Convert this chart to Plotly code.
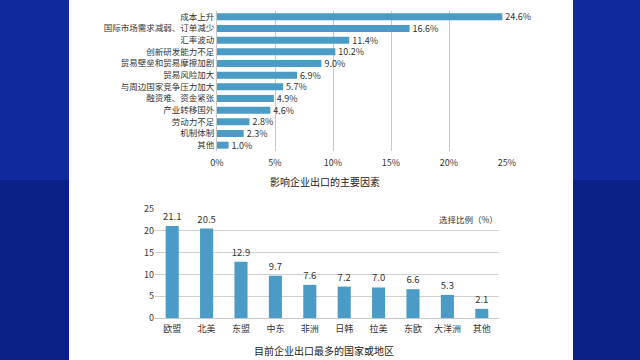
import plotly.graph_objects as go

factors = ["成本上升", "国际市场需求减弱、订单减少", "汇率波动", "创新研发能力不足",
           "贸易壁垒和贸易摩擦加剧", "贸易风险加大", "与周边国家竞争压力加大",
           "融资难、资金紧张", "产业转移国外", "劳动力不足", "机制体制", "其他"]
factor_pct = [24.6, 16.6, 11.4, 10.2, 9.0, 6.9, 5.7, 4.9, 4.6, 2.8, 2.3, 1.0]

regions = ["欧盟", "北美", "东盟", "中东", "非洲", "日韩", "拉美", "东欧", "大洋洲", "其他"]
region_pct = [21.1, 20.5, 12.9, 9.7, 7.6, 7.2, 7.0, 6.6, 5.3, 2.1]

W, H = 640, 360
BAR = "#4a9bc6"
FONT = "Noto Sans CJK SC"
TXT = "#333333"

def px(x):
    return x / W

def py(y):
    return 1 - y / H

fig = go.Figure()

fig.add_trace(go.Bar(
    x=factor_pct, y=factors, orientation="h",
    marker=dict(color=BAR, line=dict(width=0)),
    text=[f"{v:.1f}%" for v in factor_pct], textposition="outside",
    constraintext="none",
    textfont=dict(size=9, color=TXT, family=FONT),
    cliponaxis=False, xaxis="x", yaxis="y",
))

fig.add_trace(go.Bar(
    x=regions, y=region_pct, width=0.38,
    marker=dict(color=BAR, line=dict(width=0)),
    text=[f"{v:.1f}" for v in region_pct], textposition="outside",
    constraintext="none",
    textfont=dict(size=9.5, color=TXT, family=FONT),
    cliponaxis=False, xaxis="x2", yaxis="y2",
))

shapes = [
    dict(type="rect", xref="paper", yref="paper", x0=0, x1=1, y0=0, y1=0.5,
         fillcolor="#0c2188", line=dict(width=0), layer="below"),
    dict(type="rect", xref="paper", yref="paper", x0=0, x1=1, y0=0.5, y1=1,
         fillcolor="#0f2a9c", line=dict(width=0), layer="below"),
    dict(type="rect", xref="paper", yref="paper", x0=px(69), x1=px(573), y0=0, y1=1,
         fillcolor="white", line=dict(width=0), layer="below"),
]

fig.update_layout(
    width=W, height=H,
    margin=dict(l=0, r=0, t=0, b=0, autoexpand=False),
    paper_bgcolor="#0f2a9c", plot_bgcolor="rgba(0,0,0,0)",
    showlegend=False, bargap=0.4,
    font=dict(family=FONT, color=TXT, size=9),
    shapes=shapes,
    xaxis=dict(domain=[px(217), px(507)], range=[0, 25], dtick=5, ticksuffix="%",
               showgrid=True, gridcolor="#c8c8c8", gridwidth=1, zeroline=False,
               showline=False, tickfont=dict(size=9, color=TXT), anchor="y",
               ticks="", ticklabelstandoff=5, automargin=False, fixedrange=True),
    yaxis=dict(domain=[py(151), py(11)], autorange="reversed", showgrid=False,
               showline=True, linecolor="#c8c8c8", ticks="", automargin=False,
               tickfont=dict(size=8.5, color=TXT), anchor="x"),
    xaxis2=dict(domain=[px(155), px(499)], showgrid=False, showline=True,
                linecolor="#c8c8c8", ticks="", tickfont=dict(size=9, color=TXT),
                ticklabelstandoff=2, automargin=False, anchor="y2"),
    yaxis2=dict(domain=[py(318), py(209)], range=[0, 25], dtick=5, showgrid=True,
                gridcolor="#d0d0d0", zeroline=False, showline=False, ticks="",
                automargin=False, tickfont=dict(size=9, color=TXT), anchor="x2"),
    annotations=[
        dict(text="影响企业出口的主要因素", xref="paper", yref="paper",
             x=px(325), y=py(181), xanchor="center", yanchor="middle", showarrow=False,
             font=dict(size=10, color="#222222", family=FONT)),
        dict(text="目前企业出口最多的国家或地区", xref="paper", yref="paper",
             x=px(324), y=py(350), xanchor="center", yanchor="middle", showarrow=False,
             font=dict(size=10, color="#222222", family=FONT)),
        dict(text="选择比例（%）", xref="paper", yref="paper",
             x=px(468), y=py(219), xanchor="center", yanchor="middle", showarrow=False,
             font=dict(size=8.5, color=TXT, family=FONT)),
    ],
)

fig.write_html("out.html", config={"displayModeBar": False},
               post_script="document.body.style.margin='0';document.body.style.overflow='hidden';")
